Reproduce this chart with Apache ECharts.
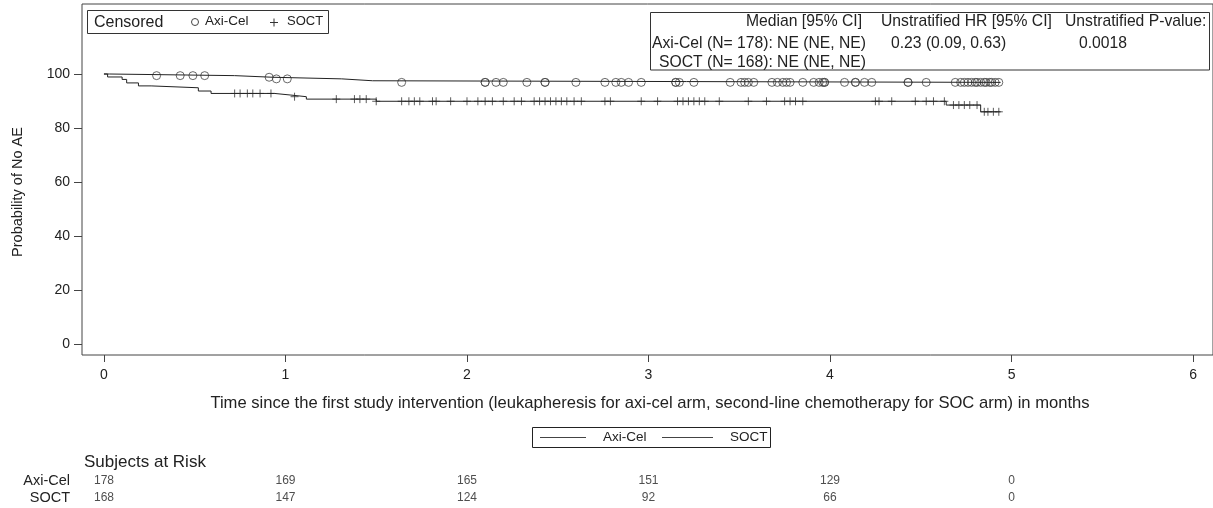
<!DOCTYPE html>
<html>
<head>
<meta charset="utf-8">
<script src="https://cdn.jsdelivr.net/npm/echarts@6/dist/echarts.min.js"></script>
<style>
  html, body { margin: 0; padding: 0; background: #fff; }
  #chart { width: 1213px; height: 508px; }
</style>
</head>
<body>
<div id="chart"></div>
<script>
// KM step curves (time in months, probability of no AE in %)
const axiTimes = [0, 0.03, 0.72, 0.93, 1.31, 1.48, 4.94];
const axiSurv = [100, 99.4, 98.8, 98.2, 97.5, 96.9, 96.9];
const soctTimes = [0, 0.02, 0.10, 0.125, 0.19, 0.26, 0.52, 0.59, 0.94, 1.03, 1.115, 1.50, 4.64, 4.83, 4.94];
const soctSurv = [100, 98.9, 98.0, 96.7, 95.6, 94.9, 93.7, 92.8, 92.2, 91.6, 90.7, 89.9, 88.5, 86.0, 86.0];

// censoring times
const axiCensored = [0.29, 0.42, 0.49, 0.555, 0.91, 0.95, 1.01, 1.64, 2.10, 2.10, 2.16, 2.20, 2.33, 2.43, 2.43,
  2.60, 2.76, 2.82, 2.85, 2.89, 2.96, 3.15, 3.15, 3.17, 3.25, 3.45, 3.51, 3.53, 3.55, 3.58, 3.68, 3.71, 3.74,
  3.76, 3.78, 3.85, 3.91, 3.94, 3.96, 3.97, 3.97, 4.08, 4.14, 4.14, 4.19, 4.23, 4.43, 4.43, 4.53, 4.69, 4.72,
  4.74, 4.76, 4.78, 4.80, 4.81, 4.83, 4.85, 4.86, 4.88, 4.89, 4.91, 4.93];
const soctCensored = [0.72, 0.75, 0.79, 0.82, 0.86, 0.92, 1.05, 1.28, 1.38, 1.41, 1.445, 1.50, 1.64, 1.68, 1.71,
  1.74, 1.81, 1.83, 1.91, 2.00, 2.06, 2.10, 2.14, 2.20, 2.26, 2.30, 2.37, 2.40, 2.43, 2.46, 2.49, 2.52, 2.55,
  2.59, 2.63, 2.76, 2.79, 2.96, 3.05, 3.16, 3.19, 3.22, 3.25, 3.28, 3.31, 3.39, 3.55, 3.65, 3.75, 3.78, 3.81,
  3.85, 4.25, 4.27, 4.34, 4.47, 4.53, 4.57, 4.63, 4.68, 4.71, 4.74, 4.77, 4.81, 4.85, 4.87, 4.90, 4.93];

// subjects at risk
const riskTimes = [0, 1, 2, 3, 4, 5];
const axiRisk = [178, 169, 165, 151, 129, 0];
const soctRisk = [168, 147, 124, 92, 66, 0];
const armNames = ['Axi-Cel', 'SOCT'];

const xTicks = [0, 1, 2, 3, 4, 5, 6];
const yTicks = [0, 20, 40, 60, 80, 100];

const FONT = 'Liberation Sans, Arial, sans-serif';
const INK = '#222';

function levelAt(times, surv, t) {
  let v = surv[0];
  for (let i = 0; i < times.length; i++) {
    if (times[i] <= t) v = surv[i];
  }
  return v;
}

function txt(x, y, text, size, align) {
  return {type: 'text', x: x, y: y,
    style: {text: text, font: size + 'px ' + FONT, fill: INK, align: align || 'left', verticalAlign: 'middle'}};
}

const plus = 'path://M0,5 L10,5 M5,0 L5,10';
const chart = echarts.init(document.getElementById('chart'));

chart.setOption({
  animation: false,
  backgroundColor: '#fff',
  textStyle: {fontFamily: FONT, color: INK},
  grid: [
    {left: 82, top: 4, width: 1133, height: 351, show: true, borderColor: '#444', borderWidth: 1, backgroundColor: 'transparent'},
    {left: 82, top: 472, width: 1133, height: 34}
  ],
  xAxis: [
    {
      type: 'value', gridIndex: 0, min: -0.121, max: 6.110,
      axisLine: {show: false, onZero: false},
      axisTick: {show: true, length: 7, lineStyle: {color: '#444'}, customValues: xTicks},
      axisLabel: {color: INK, fontSize: 14, margin: 13, customValues: xTicks},
      splitLine: {show: false}
    },
    {
      type: 'value', gridIndex: 1, min: -0.121, max: 6.110, show: false
    }
  ],
  yAxis: [
    {
      type: 'value', gridIndex: 0, min: -4.07, max: 125.93,
      axisLine: {show: false, onZero: false},
      axisTick: {show: true, length: 8, lineStyle: {color: '#444'}, customValues: yTicks},
      axisLabel: {color: INK, fontSize: 14, margin: 12, customValues: yTicks},
      splitLine: {show: false}
    },
    {
      type: 'category', gridIndex: 1, data: armNames, inverse: true,
      axisLine: {show: false, onZero: false}, axisTick: {show: false},
      axisLabel: {color: INK, fontSize: 14.5, margin: 12, interval: 0, hideOverlap: false}
    }
  ],
  series: [
    {
      name: 'Axi-Cel', type: 'line', step: 'end', symbol: 'none',
      lineStyle: {color: INK, width: 1},
      data: axiTimes.map((t, i) => [t, axiSurv[i]])
    },
    {
      name: 'SOCT', type: 'line', step: 'end', symbol: 'none',
      lineStyle: {color: INK, width: 1},
      data: soctTimes.map((t, i) => [t, soctSurv[i]])
    },
    {
      name: 'Axi-Cel censored', type: 'scatter', symbol: 'circle', symbolSize: 8,
      itemStyle: {color: 'rgba(0,0,0,0)', borderColor: '#444', borderWidth: 1},
      data: axiCensored.map(t => [t, levelAt(axiTimes, axiSurv, t)])
    },
    {
      name: 'SOCT censored', type: 'scatter', symbol: plus, symbolSize: 8,
      itemStyle: {color: 'rgba(0,0,0,0)', borderColor: '#333', borderWidth: 1},
      data: soctCensored.map(t => [t, levelAt(soctTimes, soctSurv, t)])
    },
    {
      name: 'risk', type: 'scatter', xAxisIndex: 1, yAxisIndex: 1, symbolSize: 0,
      label: {show: true, position: 'inside', color: INK, fontSize: 12, formatter: p => p.value[2]},
      data: riskTimes.map((t, i) => [t, armNames[0], axiRisk[i]])
        .concat(riskTimes.map((t, i) => [t, armNames[1], soctRisk[i]]))
    }
  ],
  graphic: [
    // axis titles
    {type: 'text', x: 18, y: 192, rotation: Math.PI / 2,
      style: {text: 'Probability of No AE', font: '14.5px ' + FONT, fill: INK, align: 'center', verticalAlign: 'middle'}},
    txt(650, 403, 'Time since the first study intervention (leukapheresis for axi-cel arm, second-line chemotherapy for SOC arm) in months', 16.6, 'center'),
    // censored legend
    {type: 'rect', shape: {x: 87.5, y: 10.5, width: 241, height: 23}, style: {fill: '#fff', stroke: '#333', lineWidth: 1}},
    txt(94, 22.5, 'Censored', 16),
    {type: 'circle', shape: {cx: 195, cy: 22, r: 3.5}, style: {fill: 'none', stroke: '#444', lineWidth: 1}},
    txt(205, 21.5, 'Axi-Cel', 13.5),
    {type: 'line', shape: {x1: 270, y1: 22.5, x2: 278, y2: 22.5}, style: {stroke: '#333', lineWidth: 1}},
    {type: 'line', shape: {x1: 274, y1: 18.5, x2: 274, y2: 26.5}, style: {stroke: '#333', lineWidth: 1}},
    txt(287, 21.5, 'SOCT', 13),
    // stats table
    {type: 'rect', shape: {x: 650.5, y: 12.5, width: 559, height: 57.5}, style: {fill: '#fff', stroke: '#333', lineWidth: 1}},
    txt(862, 22, 'Median [95% CI]', 15.7, 'right'),
    txt(881, 22, 'Unstratified HR [95% CI]', 15.7),
    txt(1065, 22, 'Unstratified P-value:', 15.7),
    txt(866, 43.5, 'Axi-Cel (N= 178): NE (NE, NE)', 15.7, 'right'),
    txt(891, 43.5, '0.23 (0.09, 0.63)', 15.7),
    txt(1079, 43.5, '0.0018', 15.7),
    txt(866, 62.5, 'SOCT (N= 168): NE (NE, NE)', 15.7, 'right'),
    // line legend
    {type: 'rect', shape: {x: 532.5, y: 427.5, width: 238, height: 20}, style: {fill: '#fff', stroke: '#222', lineWidth: 1}},
    {type: 'line', shape: {x1: 540, y1: 437.5, x2: 586, y2: 437.5}, style: {stroke: '#444', lineWidth: 1}},
    txt(603, 437.5, 'Axi-Cel', 13.5),
    {type: 'line', shape: {x1: 662, y1: 437.5, x2: 713, y2: 437.5}, style: {stroke: '#444', lineWidth: 1}},
    txt(730, 437.5, 'SOCT', 13.5),
    // risk table header
    txt(84, 462, 'Subjects at Risk', 17)
  ]
});
</script>
</body>
</html>
